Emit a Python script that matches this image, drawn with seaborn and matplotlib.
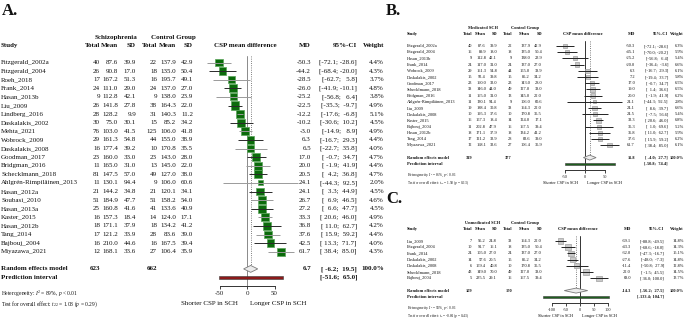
import numpy as np
import pandas as pd
import matplotlib
matplotlib.use("Agg")
import matplotlib.pyplot as plt
import seaborn as sns

# ---- Pannello A: tutti i pazienti SCH ----
a_study = ["Fitzgerald_2002a", "Fitzgerald_2004", "Roeh_2018", "Frank_2014", "Hasan_2013b",
           "Liu_2009", "Lindberg_2016", "Daskalakis_2002", "Mehta_2021", "Wobrock_2009",
           "Daskalakis_2008", "Goodman_2017", "Bridgman_2016", "Schecklmann_2018",
           "Ahlgrén-Rimpiläinen_2013", "Hasan_2012a", "Soubasi_2010", "Hasan_2013a",
           "Kaster_2015", "Hasan_2012b", "Tang_2014", "Bajbouj_2004", "Miyazawa_2021"]
a_n1 = [40, 26, 17, 24, 9, 26, 28, 30, 76, 29, 16, 23, 11, 81, 11, 21, 51, 25, 16, 18, 17, 16, 12]
a_m1 = [87.6, 90.8, 167.2, 111.0, 112.8, 141.8, 128.2, 75.0, 103.0, 161.3, 177.4, 160.0, 165.0,
        147.5, 130.1, 144.2, 184.9, 160.8, 157.3, 171.1, 121.2, 210.0, 168.1]
a_sd1 = [39.9, 17.0, 51.3, 29.0, 42.1, 27.8, 9.9, 30.1, 41.5, 54.8, 39.2, 33.0, 31.0,
         57.0, 94.4, 34.8, 47.7, 41.6, 18.4, 37.9, 33.9, 44.6, 33.6]
a_n2 = [22, 18, 16, 24, 9, 38, 31, 15, 125, 44, 10, 23, 13, 49, 9, 21, 51, 41, 14, 18, 28, 16, 27]
a_m2 = [137.9, 135.0, 195.7, 137.0, 138.0, 164.3, 140.3, 85.2, 106.0, 155.0, 170.8, 143.0, 145.0,
        127.0, 106.0, 120.1, 158.2, 133.6, 124.0, 134.2, 83.6, 167.5, 106.4]
a_sd2 = [42.9, 50.4, 49.1, 27.0, 23.9, 22.0, 11.2, 34.2, 41.8, 38.9, 35.5, 28.0, 22.0,
         38.0, 60.6, 34.1, 54.0, 40.9, 17.1, 41.2, 39.0, 39.4, 35.9]
a_md = [-50.3, -44.2, -28.5, -26.0, -25.2, -22.5, -12.2, -10.2, -3.0, 6.3, 6.5, 17.0, 20.0,
        20.5, 24.1, 24.1, 26.7, 27.2, 33.3, 36.8, 37.6, 42.5, 61.7]
a_lo = [-72.1, -68.4, -62.7, -41.9, -56.8, -35.3, -17.6, -30.6, -14.9, -16.7, -22.7, -0.7, -1.9,
        4.2, -44.3, 3.3, 6.9, 6.6, 20.6, 11.0, 15.9, 13.3, 38.4]
a_hi = [-28.6, -20.0, 5.8, -10.1, 6.4, -9.7, -6.8, 10.2, 8.9, 29.3, 35.8, 34.7, 41.9,
        36.8, 92.5, 44.9, 46.5, 47.7, 46.0, 62.7, 59.2, 71.7, 85.0]
a_w = [4.4, 4.3, 3.7, 4.8, 3.8, 4.9, 5.1, 4.5, 4.9, 4.4, 4.0, 4.7, 4.4,
       4.7, 2.0, 4.5, 4.6, 4.5, 4.9, 4.2, 4.4, 4.0, 4.3]
a_pooled = [6.7, -6.2, 19.5]
a_pred = [-51.6, 65.0]
a_tot = [623, 662]
a_het = [r"Heterogeneity: $I^2$ = 89%, $p$ < 0.01",
         r"Test for overall effect: $t_{22}$ = 1.08 ($p$ = 0.29)"]

# ---- Pannello B: SCH in terapia ----
b_study = ["Fitzgerald_2002a", "Fitzgerald_2004", "Hasan_2013b", "Frank_2014", "Wobrock_2009",
           "Daskalakis_2002", "Goodman_2017", "Schecklmann_2018", "Bridgman_2016",
           "Ahlgrén-Rimpiläinen_2013", "Liu_2009", "Daskalakis_2008", "Kaster_2015",
           "Bajbouj_2004", "Hasan_2012b", "Tang_2014", "Miyazawa_2021"]
b_n1 = [40, 16, 9, 24, 29, 15, 23, 38, 11, 11, 19, 10, 16, 11, 18, 17, 12]
b_m1 = [87.6, 89.9, 112.8, 117.0, 161.3, 92.4, 160.0, 146.0, 165.0, 130.1, 188.4, 195.3, 157.3,
        202.8, 171.1, 121.2, 168.1]
b_sd1 = [39.9, 18.0, 42.1, 31.0, 54.8, 39.8, 33.0, 44.0, 31.0, 94.4, 30.8, 37.6, 18.4,
         47.9, 37.9, 33.9, 33.6]
b_n2 = [22, 18, 9, 24, 44, 15, 23, 49, 13, 9, 38, 10, 14, 16, 18, 28, 27]
b_m2 = [137.9, 135.0, 138.0, 137.0, 155.0, 85.2, 143.0, 127.0, 145.0, 106.0, 164.3, 170.8, 124.0,
        167.5, 134.2, 83.6, 106.4]
b_sd2 = [42.9, 50.4, 23.9, 27.0, 38.9, 34.2, 28.0, 38.0, 22.0, 60.6, 22.0, 35.5, 17.1,
         39.4, 41.2, 39.0, 35.9]
b_md = [-50.3, -45.1, -25.2, -20.0, 6.3, 7.2, 17.0, 19.0, 20.0, 24.1, 24.1, 24.5, 33.3,
        35.3, 36.8, 37.6, 61.7]
b_lo = [-72.1, -70.0, -56.8, -36.4, -16.7, -19.4, -0.7, 1.4, -1.9, -44.3, 8.6, -7.5, 20.6,
        1.0, 11.0, 15.9, 38.4]
b_hi = [-28.6, -20.2, 6.4, -3.6, 29.3, 33.7, 34.7, 36.6, 41.9, 92.5, 39.7, 56.6, 46.0,
        69.6, 62.7, 59.2, 85.0]
b_w = [6.3, 5.9, 5.4, 6.6, 6.1, 5.8, 6.5, 6.5, 6.2, 2.8, 6.6, 5.4, 6.8, 5.2, 5.9, 6.2, 6.1]
b_pooled = [11.8, -4.0, 27.7]
b_pred = [-50.8, 74.4]
b_tot = [319, 377]
b_het = [r"Heterogeneity: $I^2$ = 86%, $p$ < 0.01",
         r"Test for overall effect: $t_{16}$ = 1.58 ($p$ = 0.13)"]

# ---- Pannello C: SCH senza terapia ----
c_study = ["Liu_2009", "Fitzgerald_2004", "Frank_2014", "Daskalakis_2002", "Daskalakis_2008",
           "Schecklmann_2018", "Bajbouj_2004"]
c_n1 = [7, 10, 24, 14, 6, 43, 5]
c_m1 = [95.2, 91.7, 105.0, 57.6, 159.4, 149.0, 235.5]
c_sd1 = [24.8, 16.1, 27.0, 20.5, 40.8, 70.0, 29.1]
c_n2 = [38, 18, 24, 15, 10, 49, 16]
c_m2 = [164.3, 135.0, 137.0, 85.2, 170.8, 127.0, 167.5]
c_sd2 = [22.0, 50.4, 27.0, 34.2, 35.5, 38.0, 39.4]
c_md = [-69.1, -43.3, -32.0, -27.6, -11.4, 22.0, 68.0]
c_lo = [-88.8, -68.6, -47.3, -48.0, -50.8, -1.5, 36.0]
c_hi = [-49.5, -18.0, -16.7, -7.3, 27.9, 45.5, 100.0]
c_w = [14.8, 14.3, 15.1, 14.8, 12.8, 14.5, 13.7]
c_pooled = [-14.3, -56.2, 27.5]
c_pred = [-133.4, 104.7]
c_tot = [109, 170]
c_het = [r"Heterogeneity: $I^2$ = 93%, $p$ < 0.01",
         r"Test for overall effect: $t_6$ = -0.84 ($p$ = 0.43)"]

sns.set_theme(style="white")
plt.rcParams["font.family"] = ["Liberation Serif", "DejaVu Serif"]
plt.rcParams["mathtext.fontset"] = "custom"
plt.rcParams["mathtext.rm"] = "Liberation Serif"
plt.rcParams["mathtext.it"] = "Liberation Serif:italic"

W, H = 685, 320
fig = plt.figure(figsize=(W / 100, H / 100), dpi=100)


def ftxt(x, y, s, size, ha="left", bold=False):
    # testo in coordinate pixel (y dall'alto)
    fig.text(x / W, 1 - y / H, s, fontsize=size, ha=ha, va="center",
             fontweight="bold" if bold else "normal", color="#111111")


def ci_txt(lo, hi):
    return f"[{lo:5.1f}; {hi:5.1f}]"


def forest(d, lay):
    n = len(d["study"])
    y0, dy, fs = lay["y0"], lay["dy"], lay["fs"]

    def ry(i):
        return y0 + i * dy

    ftxt(lay["lab_xy"][0], lay["lab_xy"][1], lay["label"], 12, bold=True)

    # intestazioni
    hy, gy = ry(-1.92), ry(-2.95)
    cx = lay["cols"]
    ftxt(lay["x_study"], hy, "Study", fs, bold=True)
    ftxt((cx[0] + cx[2]) / 2 - 2, gy, lay["groups"][0], fs, ha="center", bold=True)
    ftxt((cx[3] + cx[5]) / 2 - 2, gy, lay["groups"][1], fs, ha="center", bold=True)
    for x, h in zip(cx, ["Total", "Mean", "SD"] * 2):
        ftxt(x, hy, h, fs, ha="right", bold=True)
    ftxt(lay["zero"] - 2, hy, "CSP mean difference", fs, ha="center", bold=True)
    ftxt(lay["x_md"], hy, "MD", fs, ha="right", bold=True)
    ftxt(lay["x_ci"], hy, "95%-CI", fs, ha="right", bold=True)
    ftxt(lay["x_w"], hy, "Weight", fs, ha="right", bold=True)

    # righe degli studi
    for i in range(n):
        y = ry(i)
        ftxt(lay["x_study"], y, d["study"][i], fs)
        vals = [f"{d['n1'][i]}", f"{d['m1'][i]:.1f}", f"{d['sd1'][i]:.1f}",
                f"{d['n2'][i]}", f"{d['m2'][i]:.1f}", f"{d['sd2'][i]:.1f}"]
        for x, v in zip(cx, vals):
            ftxt(x, y, v, fs, ha="right")
        ftxt(lay["x_md"], y, f"{d['md'][i]:.1f}", fs, ha="right")
        ftxt(lay["x_ci"], y, ci_txt(d["lo"][i], d["hi"][i]), fs, ha="right")
        ftxt(lay["x_w"], y, f"{d['w'][i]:.1f}%", fs, ha="right")

    # riassunto
    md, lo, hi = d["pooled"]
    ftxt(lay["x_study"], ry(n + 1), "Random effects model", fs, bold=True)
    ftxt(lay["x_study"], ry(n + 2), "Prediction interval", fs, bold=True)
    ftxt(cx[0], ry(n + 1), str(d["tot"][0]), fs, ha="right", bold=True)
    ftxt(cx[3], ry(n + 1), str(d["tot"][1]), fs, ha="right", bold=True)
    ftxt(lay["x_md"], ry(n + 1), f"{md:.1f}", fs, ha="right", bold=True)
    ftxt(lay["x_ci"], ry(n + 1), ci_txt(lo, hi), fs, ha="right", bold=True)
    ftxt(lay["x_w"], ry(n + 1), "100.0%", fs, ha="right", bold=True)
    ftxt(lay["x_ci"], ry(n + 2), ci_txt(*d["pred"]), fs, ha="right", bold=True)
    ftxt(lay["x_study"], ry(n + 3.85), d["het"][0], fs * 0.8)
    ftxt(lay["x_study"], ry(n + 5.15), d["het"][1], fs * 0.8)

    # area grafica
    xl = lay["xlim"]
    left = lay["zero"] + xl[0] * lay["scale"]
    width = (xl[1] - xl[0]) * lay["scale"]
    top, bottom = ry(-0.8), ry(n + 3)
    ax = fig.add_axes([left / W, 1 - bottom / H, width / W, (bottom - top) / H])
    ax.patch.set_alpha(0)

    df = pd.DataFrame({"md": d["md"], "row": np.arange(n), "w": d["w"]})
    line_cols = [lay["ci_cols"][i % len(lay["ci_cols"])] for i in range(n)]
    ax.axvline(0, color=lay["ref_col"], lw=0.7, zorder=1)
    ax.vlines(md, -0.8, n + 1, colors="#555555", lw=0.6, linestyles=":", zorder=1)
    ax.hlines(df["row"], d["lo"], d["hi"], colors=line_cols, lw=0.7, zorder=3)
    wmax = lay["wnorm"]
    sns.scatterplot(data=df, x="md", y="row", size="w", sizes=(0, wmax * lay["k"]),
                    size_norm=(0, wmax), marker="s", color=lay["sq_face"],
                    edgecolor=lay["sq_edge"], linewidth=0.5, legend=False, ax=ax, zorder=2)
    ax.fill([lo, md, hi, md], [n + 1, n + 0.6, n + 1, n + 1.4],
            facecolor="#ececec", edgecolor="#7a7a7a", lw=0.6, zorder=3)
    ax.barh(n + 2, d["pred"][1] - d["pred"][0], left=d["pred"][0], height=0.38,
            color=lay["pred_col"], edgecolor="#3a3a3a", lw=0.4, zorder=3)

    ax.set_xlim(*xl)
    ax.set_ylim(n + 3, -0.8)
    ax.set_xlabel("")
    ax.set_ylabel("")
    ax.set_yticks([])
    ax.set_xticks(lay["ticks"])
    ax.set_xticklabels([str(t) for t in lay["ticks"]])
    for s in ["left", "right", "top"]:
        ax.spines[s].set_visible(False)
    ax.spines["bottom"].set_bounds(lay["ticks"][0], lay["ticks"][-1])
    ax.spines["bottom"].set_color("#333333")
    ax.spines["bottom"].set_linewidth(0.7)
    ax.tick_params(axis="x", direction="out", length=2.5, width=0.6, pad=1.2,
                   labelsize=fs, colors="#222222", bottom=True)

    ftxt(lay["zero"] - 1.1 * dy, ry(n + 5.05), "Shorter CSP in SCH", fs, ha="right")
    ftxt(lay["zero"] + 0.35 * dy, ry(n + 5.05), "Longer CSP in SCH", fs, ha="left")


data_a = dict(study=a_study, n1=a_n1, m1=a_m1, sd1=a_sd1, n2=a_n2, m2=a_m2, sd2=a_sd2,
              md=a_md, lo=a_lo, hi=a_hi, w=a_w, pooled=a_pooled, pred=a_pred, tot=a_tot, het=a_het)
data_b = dict(study=b_study, n1=b_n1, m1=b_m1, sd1=b_sd1, n2=b_n2, m2=b_m2, sd2=b_sd2,
              md=b_md, lo=b_lo, hi=b_hi, w=b_w, pooled=b_pooled, pred=b_pred, tot=b_tot, het=b_het)
data_c = dict(study=c_study, n1=c_n1, m1=c_m1, sd1=c_sd1, n2=c_n2, m2=c_m2, sd2=c_sd2,
              md=c_md, lo=c_lo, hi=c_hi, w=c_w, pooled=c_pooled, pred=c_pred, tot=c_tot, het=c_het)

lay_a = dict(label="A.", lab_xy=(2, 11), x_study=1, cols=[100, 118, 136, 157, 176, 193],
             groups=["Schizophrenia", "Control Group"], y0=62.5, dy=8.6, fs=5.0,
             zero=247, scale=0.55, xlim=(-80, 100), ticks=[-50, 0, 50],
             x_md=311, x_ci=357, x_w=384, ci_cols=["#9a9a9a", "#2a2a2a"], ref_col="#8a8a8a",
             sq_face="#0b6b0b", sq_edge="#5aa55a", k=7.0, wnorm=10, pred_col="#8b1a1a")
lay_b = dict(label="B.", lab_xy=(386, 11), x_study=407, cols=[472, 486, 497, 512, 530, 542],
             groups=["Medicated SCH", "Control Group"], y0=46, dy=6.2, fs=3.2,
             zero=585, scale=0.4, xlim=(-80, 100), ticks=[-50, 0, 50],
             x_md=635, x_ci=668, x_w=684, ci_cols=["#222222"], ref_col="#333333",
             sq_face="#c9c9c9", sq_edge="#a0a0a0", k=1.67, wnorm=10, pred_col="#1e5e1e")
lay_c = dict(label="C.", lab_xy=(386, 199), x_study=407, cols=[472, 486, 497, 512, 530, 542],
             groups=["Unmedicated SCH", "Control Group"], y0=241, dy=6.2, fs=3.2,
             zero=580, scale=0.28, xlim=(-140, 110), ticks=[-100, -50, 0, 50, 100],
             x_md=631, x_ci=664, x_w=684, ci_cols=["#222222"], ref_col="#333333",
             sq_face="#c9c9c9", sq_edge="#a0a0a0", k=1.06, wnorm=20, pred_col="#1e5e1e")

forest(data_a, lay_a)
forest(data_b, lay_b)
forest(data_c, lay_c)

fig.savefig("out.png", dpi=100)
